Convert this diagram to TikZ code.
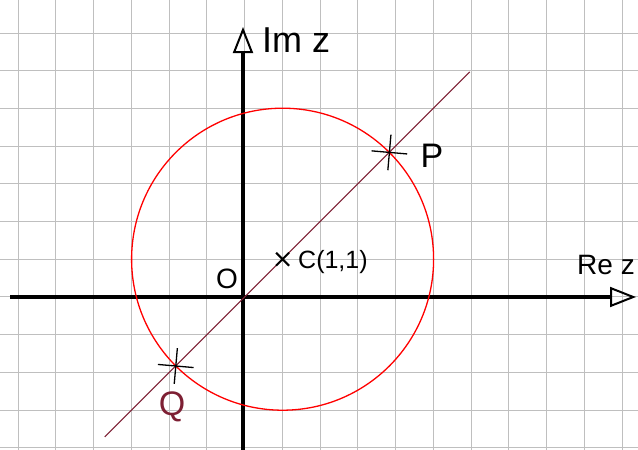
\documentclass[tikz,border=0pt]{standalone}
\usepackage{fontspec}
\setmainfont{Liberation Sans}
\usetikzlibrary{arrows.meta,shapes.misc}
\definecolor{maroon}{HTML}{7D1F33}
\begin{document}
\begin{tikzpicture}[x=1pt,y=-1pt,
  gridline/.style={gray!50, line width=1pt},
  axis/.style={line width=3.5pt, -{Triangle[open,length=26pt,width=20pt,line width=2pt]}},
  circ/.style={red, line width=1.3pt},
  diag/.style={maroon, line width=1.1pt},
  plusmark/.style={cross out, draw=black, line width=1.3pt, minimum size=24pt, inner sep=0pt, rotate=40},
  xmark/.style={cross out, draw=black, line width=2pt, minimum size=11pt, inner sep=0pt},
  lbl/.style={font=\fontsize{34}{38}\selectfont, inner sep=0pt}]
\useasboundingbox (0,0) rectangle (638,450);
\fill[white] (0,0) rectangle (638,450);
\foreach \i in {0,...,16} \draw[gridline] ({18+37.75*\i},0) -- ({18+37.75*\i},450);
\foreach \j in {0,...,11} \draw[gridline] (0,{33+37.7*\j}) -- (638,{33+37.7*\j});
% axes
\coordinate (O) at (244.8,296.9);
\coordinate (xs) at (10,297);
\coordinate (xe) at (636,297);
\coordinate (ys) at (243,450);
\coordinate (ye) at (243,27);
\draw[axis] (xs) -- (xe);
\draw[axis] (ys) -- (ye);
% circle and line
\coordinate (C) at (282.6,259.2);
\draw[circ] (C) circle (151);
\coordinate (L1) at (104.8,436.9);
\coordinate (L2) at (469.8,71.9);
\draw[diag] (L1) -- (L2);
% marks
\node[plusmark] (Pm) at (389.4,152.4) {};
\node[plusmark] (Qm) at (175.8,366.0) {};
\node[xmark] (Cm) at (C) {};
% labels
\node[lbl, anchor=west, font=\fontsize{36}{40}\selectfont] (imz) at (262,40) {Im z};
\node[lbl, anchor=east, font=\fontsize{28}{32}\selectfont] (rez) at (635,265) {Re z};
\node[lbl, font=\fontsize{28}{32}\selectfont] (olab) at (227,279) {O};
\node[lbl, anchor=west, font=\fontsize{25}{30}\selectfont] (clab) at (298,262) {C(1,1)};
\node[lbl] (plab) at (432,156) {P};
\node[lbl, text=maroon] (qlab) at (172,407) {Q};
\end{tikzpicture}
\end{document}
